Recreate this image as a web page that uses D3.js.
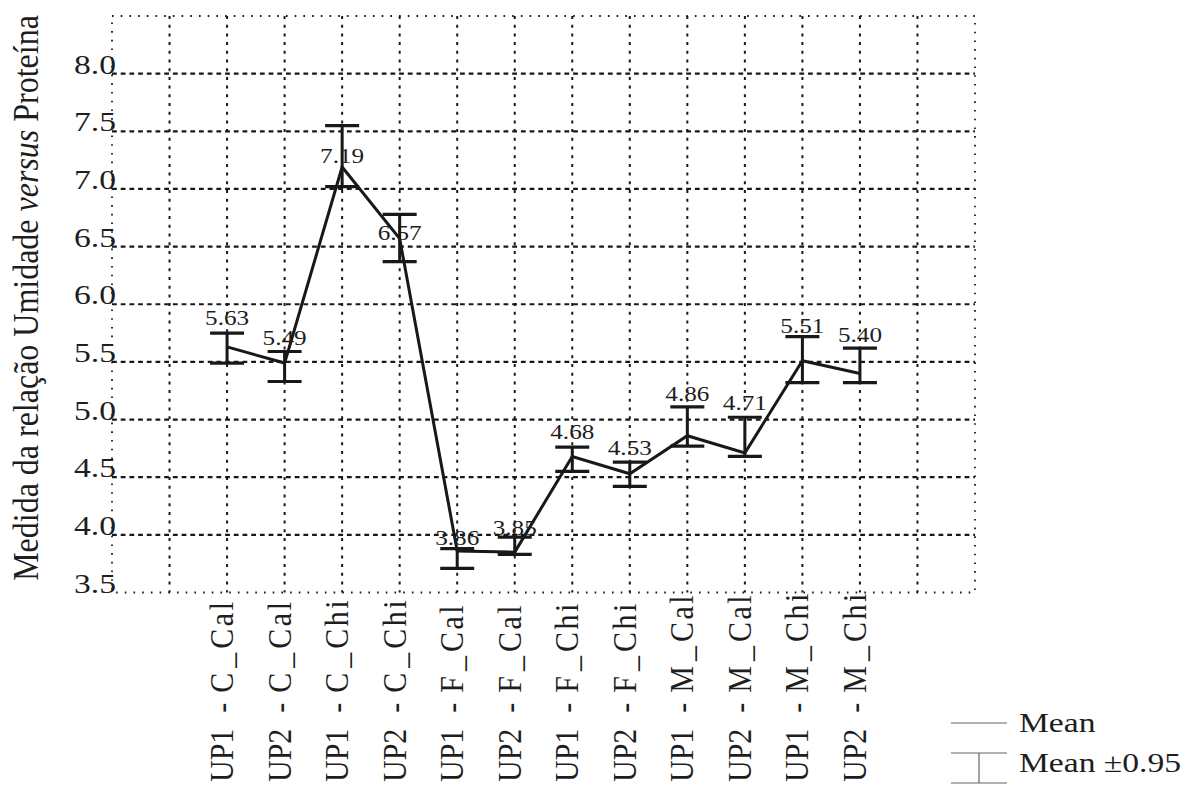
<!DOCTYPE html>
<html>
<head>
<meta charset="utf-8">
<script src="https://cdn.jsdelivr.net/npm/d3@7/dist/d3.min.js"></script>
<style>
  html, body { margin: 0; padding: 0; background: #fff; }
  svg { display: block; }
  text { font-family: "Liberation Serif", "Times New Roman", serif; fill: #1e1e1e; white-space: pre; }
</style>
</head>
<body>
<svg id="chart" width="1183" height="787"></svg>
<script>
// Groups (plant / origin / product) along the x axis
const categories = [
  "UP1 - C_Cal", "UP2 - C_Cal", "UP1 - C_Chi", "UP2 - C_Chi",
  "UP1 - F_Cal", "UP2 - F_Cal", "UP1 - F_Chi", "UP2 - F_Chi",
  "UP1 - M_Cal", "UP2 - M_Cal", "UP1 - M_Chi", "UP2 - M_Chi"
];
// Mean of the moisture / protein ratio per group
const means = [5.63, 5.49, 7.19, 6.57, 3.86, 3.85, 4.68, 4.53, 4.86, 4.71, 5.51, 5.40];
// Mean ± 0.95 confidence bounds
const upper = [5.75, 5.59, 7.55, 6.78, 3.88, 3.98, 4.76, 4.63, 5.11, 5.02, 5.72, 5.62];
const lower = [5.49, 5.33, 7.02, 6.37, 3.71, 3.83, 4.55, 4.42, 4.77, 4.68, 5.32, 5.32];
// Y axis tick values
const yTicks = [3.5, 4.0, 4.5, 5.0, 5.5, 6.0, 6.5, 7.0, 7.5, 8.0];

// vertical shift (px) of each value label relative to its point
const labelShift = [-22, -18, -4, 1, -6, -17, -17, -19, -35, -43, -28, -31];

const svg = d3.select("#chart");
const plotLeft = 112, plotRight = 975, plotTop = 16, plotBottom = 592.5;

// two empty slots on each side of the twelve groups
const x = d3.scaleLinear().domain([-2, 13]).range([plotLeft, plotRight]);
const y = d3.scaleLinear().domain([3.5, 8.5]).range([plotBottom, plotTop]);

const ink = "#181818";
const stretch = "scale(1.2,1)";

// grid
const grid = svg.append("g");
grid.selectAll("line.v").data(d3.range(-1, 13)).join("line")
  .attr("class", "v")
  .attr("x1", d => x(d)).attr("x2", d => x(d))
  .attr("y1", plotTop).attr("y2", plotBottom)
  .attr("stroke", ink).attr("stroke-width", 2)
  .attr("stroke-dasharray", "3,5.7");
grid.selectAll("line.h").data(yTicks.filter(t => t > 3.5)).join("line")
  .attr("class", "h")
  .attr("x1", plotLeft).attr("x2", plotRight)
  .attr("y1", d => y(d)).attr("y2", d => y(d))
  .attr("stroke", ink).attr("stroke-width", 2.2)
  .attr("stroke-dasharray", "4.8,3.9");
// dotted frame
grid.append("rect")
  .attr("x", plotLeft).attr("y", plotTop)
  .attr("width", plotRight - plotLeft).attr("height", plotBottom - plotTop)
  .attr("fill", "none").attr("stroke", ink).attr("stroke-width", 1.8)
  .attr("stroke-dasharray", "1.6,7.1");

// y tick labels
svg.append("g").selectAll("g").data(yTicks).join("g")
  .attr("transform", d => `translate(${plotLeft + 4},${y(d)}) ${stretch}`)
  .append("text")
  .attr("text-anchor", "end")
  .attr("font-size", 28)
  .text(d => d.toFixed(1));

// y axis title
const title = svg.append("text")
  .attr("transform", `translate(38,298) scale(1.13,1) rotate(-90)`)
  .attr("text-anchor", "middle")
  .attr("font-size", 32);
title.append("tspan").text("Medida da relação Umidade ");
title.append("tspan").attr("font-style", "italic").text("versus");
title.append("tspan").text(" Proteína");

// x category labels, set with the loose spacing of the original axis
const xl = svg.append("g").selectAll("text").data(categories).join("text")
  .attr("transform", (d, i) => `translate(${x(i) + 6},782) scale(1.12,1) rotate(-90)`)
  .attr("font-size", 30);
xl.each(function (d) {
  const m = d.match(/^(\S+) - (\w)_(\w+)$/);
  const t = d3.select(this);
  t.append("tspan").text(m[1]);
  t.append("tspan").attr("dx", 16).text("-");
  t.append("tspan").attr("dx", 10).text(m[2]);
  t.append("tspan").attr("dx", 5).text("_");
  t.append("tspan").attr("dx", 4).attr("letter-spacing", 2.5).text(m[3]);
});

const idx = d3.range(means.length);

// error bars
const bars = svg.append("g").attr("stroke", ink).attr("fill", "none");
bars.selectAll("line.stem").data(idx).join("line")
  .attr("class", "stem")
  .attr("x1", i => x(i)).attr("x2", i => x(i))
  .attr("y1", i => y(upper[i])).attr("y2", i => y(lower[i]))
  .attr("stroke-width", 3);
bars.selectAll("line.cu").data(idx).join("line")
  .attr("class", "cu")
  .attr("x1", i => x(i) - 17).attr("x2", i => x(i) + 17)
  .attr("y1", i => y(upper[i])).attr("y2", i => y(upper[i]))
  .attr("stroke-width", 3.2);
bars.selectAll("line.cl").data(idx).join("line")
  .attr("class", "cl")
  .attr("x1", i => x(i) - 17).attr("x2", i => x(i) + 17)
  .attr("y1", i => y(lower[i])).attr("y2", i => y(lower[i]))
  .attr("stroke-width", 3.2);

// mean line
svg.append("path")
  .datum(idx)
  .attr("fill", "none").attr("stroke", ink).attr("stroke-width", 3)
  .attr("stroke-linejoin", "miter")
  .attr("d", d3.line().x(i => x(i)).y(i => y(means[i])));

// value labels
svg.append("g").selectAll("g").data(idx).join("g")
  .attr("transform", i => `translate(${x(i)},${y(means[i]) + labelShift[i]}) ${stretch}`)
  .append("text")
  .attr("text-anchor", "middle")
  .attr("font-size", 21)
  .text(i => means[i].toFixed(2));

// legend
const lg = svg.append("g").attr("stroke", "#666").attr("stroke-width", 1.2);
lg.append("line").attr("x1", 951).attr("x2", 1007).attr("y1", 723).attr("y2", 723);
lg.append("line").attr("x1", 951).attr("x2", 1007).attr("y1", 753).attr("y2", 753);
lg.append("line").attr("x1", 979).attr("x2", 979).attr("y1", 753).attr("y2", 783);
lg.append("line").attr("x1", 951).attr("x2", 1007).attr("y1", 783).attr("y2", 783);

svg.append("g").attr("transform", `translate(1019,732) ${stretch}`)
  .append("text").attr("font-size", 28).text("Mean");
svg.append("g").attr("transform", `translate(1019,772) ${stretch}`)
  .append("text").attr("font-size", 28).text("Mean ±0.95");
</script>
</body>
</html>
